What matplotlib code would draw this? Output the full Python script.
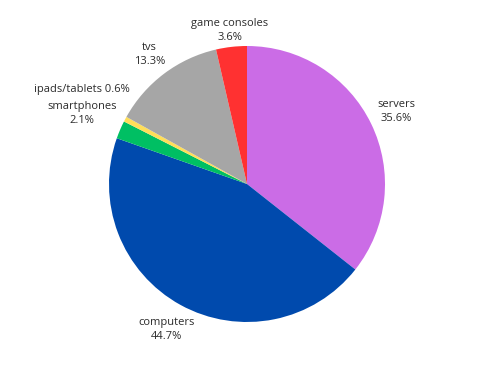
import numpy as np
import matplotlib
matplotlib.use("Agg")
import matplotlib.pyplot as plt

# data (clockwise from 12 o'clock)
labels = ["servers", "computers", "smartphones", "ipads/tablets", "tvs", "game consoles"]
shares = [35.6, 44.7, 2.1, 0.6, 13.3, 3.6]
colors = ["#CB6CE6", "#004AAD", "#00BF63", "#FFDE59", "#A6A6A6", "#FF3131"]
one_line = [False, False, False, True, False, False]  # percentage on same line as name

plt.rcParams['font.family'] = ['Open Sans', 'DejaVu Sans']

fig = plt.figure(figsize=(4.87, 3.8), dpi=100)
R = 138  # pie radius in pixels
ax = fig.add_axes([(247 - R) / 487, (196 - R) / 380, 2 * R / 487, 2 * R / 380])
wedges, _ = ax.pie(shares, colors=colors, startangle=90, counterclock=False,
                   radius=1, wedgeprops=dict(linewidth=0))
ax.set_xlim(-1, 1)
ax.set_ylim(-1, 1)
ax.axis('off')

# outside labels: push each box along its radius until it clears the pie
fig.canvas.draw()
renderer = fig.canvas.get_renderer()
gap = 5 / R
pad = 6 / R
placed = []
for w, lab, pct, single in zip(wedges, labels, shares, one_line):
    txt = f"{lab} {pct}%" if single else f"{lab}\n{pct}%"
    mid = np.deg2rad((w.theta1 + w.theta2) / 2)
    ux, uy = np.cos(mid), np.sin(mid)
    t = ax.text(0, 0, txt, ha='center', va='center', fontsize=8, color='#2b2b2b',
                linespacing=1.35, clip_on=False)
    bb = t.get_window_extent(renderer)
    hw, hh = bb.width / 2 / R, bb.height / 2 / R
    sx, sy = np.sign(ux) * hw, np.sign(uy) * hh
    b = ux * sx + uy * sy
    c = sx ** 2 + sy ** 2 - (1 + gap) ** 2
    d = b + np.sqrt(b * b - c)
    cx, cy = d * ux, d * uy
    # avoid overlapping labels already placed
    def hits(x, y):
        return any(abs(x - px) < hw + phw and abs(y - py) < hh + phh + pad
                   for px, py, phw, phh in placed)
    while hits(cx, cy):
        cy += np.sign(uy) * 0.01
    t.set_position((cx, cy))
    placed.append((cx, cy, hw, hh))

fig.savefig("out.png", dpi=100, facecolor="white")
